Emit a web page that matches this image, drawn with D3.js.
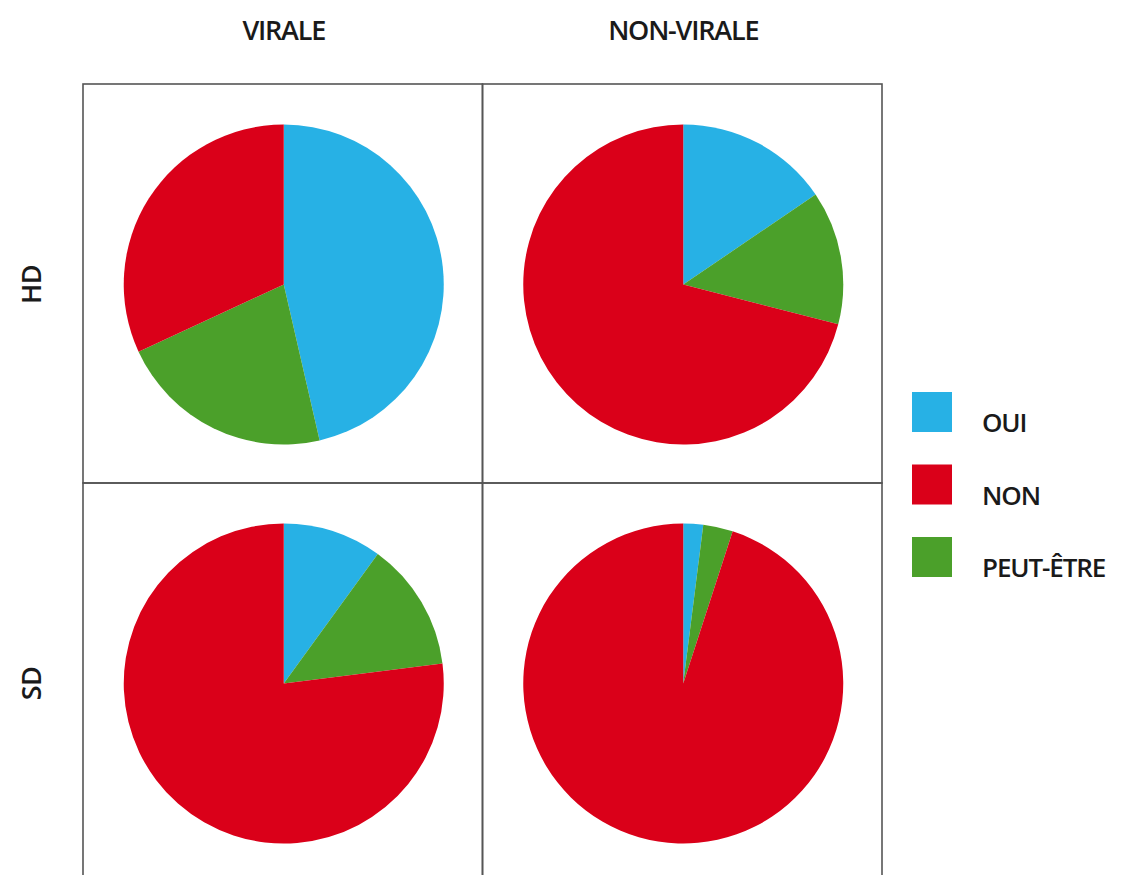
<!DOCTYPE html>
<html><head><meta charset="utf-8">
<script src="https://cdn.jsdelivr.net/npm/d3@7"></script>
<style>html,body{margin:0;padding:0;background:#fff;}svg{display:block;}</style>
</head><body>
<svg id="chart" width="1128" height="875"></svg>
<script>
const columns = ["VIRALE", "NON-VIRALE"];
const rows = ["HD", "SD"];
const answers = ["OUI", "PEUT-ÊTRE", "NON"];          // clockwise drawing order
const legendOrder = ["OUI", "NON", "PEUT-ÊTRE"];
const colors = {"OUI": "#27B1E5", "NON": "#DA0019", "PEUT-ÊTRE": "#4BA02A"};
// percentages per cell [OUI, PEUT-ÊTRE, NON]
const hdVirale = [46.4, 21.7, 31.9];
const hdNonVirale = [15.5, 13.5, 71];
const sdVirale = [10, 13, 77];
const sdNonVirale = [2, 3, 95];
const cells = [
  {row: "HD", col: "VIRALE", values: hdVirale},
  {row: "HD", col: "NON-VIRALE", values: hdNonVirale},
  {row: "SD", col: "VIRALE", values: sdVirale},
  {row: "SD", col: "NON-VIRALE", values: sdNonVirale}
];

const svg = d3.select("#chart");
const x = d3.scaleBand().domain(columns).range([83, 882]);
const y = d3.scaleBand().domain(rows).range([84, 882]);
const r = 160;
const font = "'Open Sans', sans-serif";

const pie = d3.pie().sort(null).value(d => d.v);
const arc = d3.arc().innerRadius(0).outerRadius(r);

cells.forEach(c => {
  const cx = x(c.col) + x.bandwidth() / 2 + 1;
  const cy = y(c.row) + y.bandwidth() / 2 + 1;
  const data = answers.map((a, i) => ({k: a, v: c.values[i]}));
  svg.append("g").attr("transform", `translate(${cx},${cy})`)
    .selectAll("path").data(pie(data)).join("path")
    .attr("d", arc).attr("fill", d => colors[d.data.k]);
});

// grid
const g = svg.append("g").attr("stroke", "#555").attr("stroke-width", 1.6).attr("fill", "none");
columns.forEach(cn => {
  rows.forEach(rn => {
    g.append("rect").attr("x", x(cn)).attr("y", y(rn))
      .attr("width", x.bandwidth()).attr("height", y.bandwidth());
  });
});

// column titles
svg.selectAll(".coltitle").data(columns).join("text")
  .attr("x", d => x(d) + x.bandwidth() / 2 + 1).attr("y", 40)
  .attr("text-anchor", "middle").attr("font-family", font).attr("font-size", 27)
  .attr("font-weight", 600).attr("letter-spacing", -1.2).attr("fill", "#1a1a1a").text(d => d);

// row titles
svg.selectAll(".rowtitle").data(rows).join("text")
  .attr("transform", d => `translate(41,${y(d) + y.bandwidth() / 2 + 1}) rotate(-90)`)
  .attr("text-anchor", "middle").attr("font-family", font).attr("font-size", 27)
  .attr("font-weight", 600).attr("letter-spacing", -0.6).attr("fill", "#1a1a1a").text(d => d);

// legend
const ly = d3.scalePoint().domain(legendOrder).range([392, 537]);
const lg = svg.selectAll(".leg").data(legendOrder).join("g")
  .attr("transform", d => `translate(912,${ly(d)})`);
lg.append("rect").attr("width", 40).attr("height", 40).attr("fill", d => colors[d]);
lg.append("text").attr("x", 70).attr("y", 40).attr("font-family", font)
  .attr("font-size", 26).attr("font-weight", 600).attr("letter-spacing", -1.1)
  .attr("fill", "#1a1a1a").text(d => d);
</script>
</body></html>
